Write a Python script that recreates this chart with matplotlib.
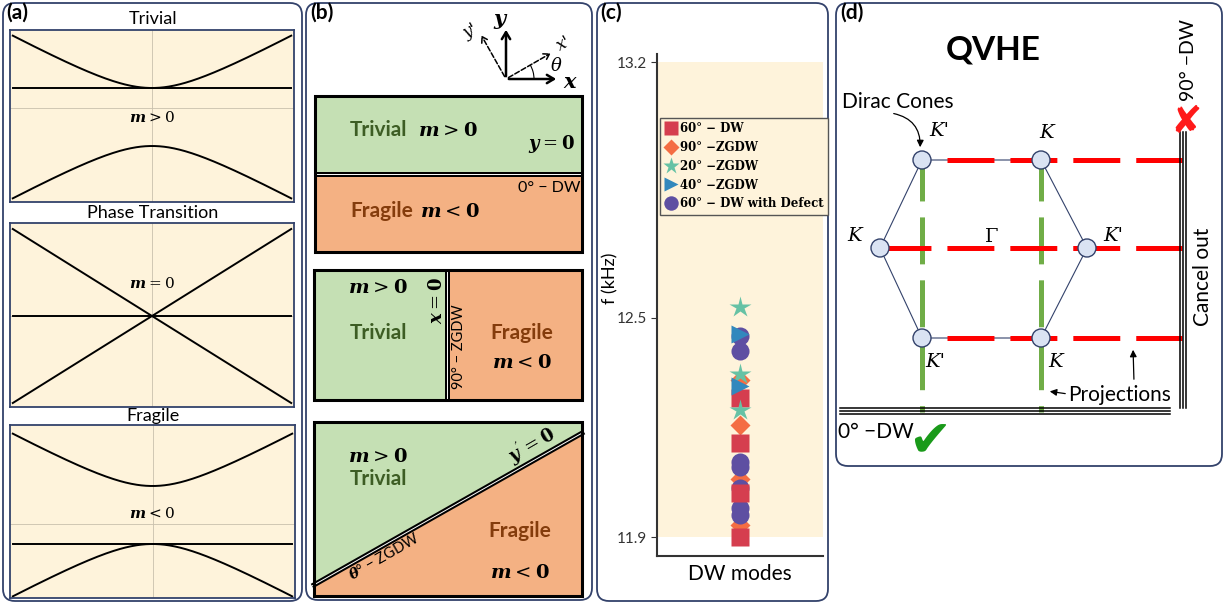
import matplotlib.pyplot as plt
import numpy as np
from matplotlib.patches import FancyBboxPatch, Rectangle, Polygon, Circle, Arc

plt.rcParams['font.family'] = ['Lato', 'DejaVu Sans']
plt.rcParams['mathtext.fontset'] = 'custom'
plt.rcParams['mathtext.rm'] = 'DejaVu Serif'
plt.rcParams['mathtext.it'] = 'DejaVu Serif:italic:bold'
plt.rcParams['mathtext.bf'] = 'DejaVu Serif:bold'
plt.rcParams['lines.scale_dashes'] = False

# ---- data -------------------------------------------------------------
# (a) band structures: E = c +/- sqrt((v k)^2 + m^2), flat band at c + m
phase_titles = ['Trivial', 'Phase Transition', 'Fragile']
phase_mass = [0.58, 0.0, -0.58]
phase_offset = [-0.18, 0.0, 0.18]
phase_velocity = [1.52, 1.74, 1.52]
phase_labels = [r'$m > 0$', r'$m = 0$', r'$m < 0$']
k = np.linspace(-1, 1, 301)

# (c) DW mode frequencies (kHz)
dw60 = [12.28, 12.157, 12.02, 11.90]
zg90 = [12.33, 12.206, 12.06, 11.933]
zg20 = [12.53, 12.346, 12.247]
zg40 = [12.456, 12.313]
dw60_defect = [12.45, 12.41, 12.105, 12.092, 12.034, 11.98, 11.96]
mode_labels = ['60° − DW', '90° −ZGDW', '20° −ZGDW', '40° −ZGDW', '60° − DW with Defect']
f_ticks = [11.9, 12.5, 13.2]

# (d) Brillouin zone (pixel layout of the diagram)
hex_x = [922, 1041, 1087, 1041, 922, 880]
hex_y = [160, 160, 248, 338, 338, 248]

# ---- colours ----------------------------------------------------------
FRAME = '#33426b'
BEIGE = '#fef3db'
GREEN = '#c5e0b4'
ORANGE = '#f4b183'
DKGREEN = '#3d5d24'
BROWN = '#843c0c'
spectral = ['#d53e4f', '#f46d43', '#66c2a5', '#3288bd', '#5e4fa2']

W, H = 1230, 603
fig = plt.figure(figsize=(12.3, 6.03), dpi=100)

ov = fig.add_axes([0, 0, 1, 1])
ov.set_xlim(0, W)
ov.set_ylim(H, 0)
ov.axis('off')


def box(l, t, r, b):
    return [l / W, 1 - b / H, (r - l) / W, (b - t) / H]


def frame(l, t, r, b):
    ov.add_patch(FancyBboxPatch((l, t), r - l, b - t,
                                boxstyle='round,pad=0,rounding_size=12',
                                fc='none', ec=FRAME, lw=1.3))


def double_line(xs, ys, w=3.6):
    ov.plot(xs, ys, color='k', lw=w, solid_capstyle='butt', zorder=4)
    ov.plot(xs, ys, color='white', lw=0.7, solid_capstyle='butt', zorder=5)


for l, t, r, b in [(3, 3, 302, 601), (306, 3, 592, 600),
                   (597, 3, 828, 601), (836, 3, 1222, 466)]:
    frame(l, t, r, b)

for lab, (x, y) in zip(['(a)', '(b)', '(c)', '(d)'],
                       [(6, 3), (310, 3), (600, 3), (840, 3)]):
    ov.text(x, y, lab, fontsize=15, fontweight='bold', ha='left', va='top')

# ---- (a) --------------------------------------------------------------
a_boxes = [(10, 30, 294, 202), (10, 223, 294, 407), (10, 425, 295, 598)]
a_ylims = [(-1.88, 1.56), (-1.82, 1.86), (-1.48, 1.98)]
a_label_y = [-0.2, 0.66, 0.22]
a_title_y = [19, 213, 416]
for i in range(3):
    ax = fig.add_axes(box(*a_boxes[i]))
    ax.set_facecolor(BEIGE)
    for s in ax.spines.values():
        s.set_color(FRAME)
        s.set_linewidth(1.3)
    ax.set_xticks([])
    ax.set_yticks([])
    ax.set_xlim(-1.02, 1.02)
    ax.set_ylim(*a_ylims[i])
    ax.axhline(0, color='#c9c0ad', lw=0.6)
    ax.axvline(0, color='#c9c0ad', lw=0.6)
    m, c, v = phase_mass[i], phase_offset[i], phase_velocity[i]
    e = np.sqrt((v * k) ** 2 + m ** 2)
    ax.plot(k, c + e, color='k', lw=1.4)
    ax.plot(k, c - e, color='k', lw=1.4)
    ax.plot(k, np.full_like(k, c + m), color='k', lw=1.4)
    ax.text(0, a_label_y[i], phase_labels[i], ha='center', va='center', fontsize=11)
    ov.text(153, a_title_y[i], phase_titles[i], ha='center', va='center', fontsize=13)

# ---- (b) --------------------------------------------------------------
# coordinate icon
o = (506, 79)
hd = dict(color='k', lw=1.8)
ov.annotate('', xy=(559, 79), xytext=o,
            arrowprops=dict(arrowstyle='->,head_length=0.5,head_width=0.3', **hd))
ov.annotate('', xy=(506, 27), xytext=o,
            arrowprops=dict(arrowstyle='->,head_length=0.5,head_width=0.3', **hd))
ov.annotate('', xy=(553, 52), xytext=o,
            arrowprops=dict(arrowstyle='->,head_length=0.4,head_width=0.25',
                            color='k', lw=1.1, ls='--'))
ov.annotate('', xy=(480, 33), xytext=o,
            arrowprops=dict(arrowstyle='->,head_length=0.4,head_width=0.25',
                            color='k', lw=1.1, ls='--'))
ov.add_patch(Arc(o, 56, 56, theta1=-30, theta2=0, color='k', lw=0.8))
ser_bi = dict(family='DejaVu Serif', style='italic', fontweight='bold')
ov.text(570, 82, 'x', fontsize=15, ha='center', va='center', **ser_bi)
ov.text(499, 19, 'y', fontsize=15, ha='center', va='center', **ser_bi)
ov.text(564, 44, "x'", fontsize=12, ha='center', va='center', rotation=30,
        family='DejaVu Serif', style='italic')
ov.text(470, 31, "y'", fontsize=12, ha='center', va='center', rotation=30,
        family='DejaVu Serif', style='italic')
ov.text(556, 66, 'θ', fontsize=13, ha='center', va='center',
        family='DejaVu Serif', style='italic')

# rect 1: 0 deg DW
ov.add_patch(Rectangle((315, 96), 267, 78, fc=GREEN, ec='none'))
ov.add_patch(Rectangle((315, 174), 267, 78, fc=ORANGE, ec='none'))
double_line([315, 582], [174, 174])
ov.add_patch(Rectangle((315, 96), 267, 156, fill=False, ec='k', lw=2.2, zorder=6))
ov.text(378, 130, 'Trivial', color=DKGREEN, fontsize=15, fontweight='bold',
        ha='center', va='center')
ov.text(448, 130, r'$m > \mathbf{0}$', fontsize=14, ha='center', va='center')
ov.text(552, 144, r'$y = \mathbf{0}$', fontsize=13, ha='center', va='center')
ov.text(580, 188, '0° − DW', fontsize=11.5, ha='right', va='center')
ov.text(382, 211, 'Fragile', color=BROWN, fontsize=15, fontweight='bold',
        ha='center', va='center')
ov.text(450, 211, r'$m < \mathbf{0}$', fontsize=14, ha='center', va='center')

# rect 2: 90 deg ZGDW
ov.add_patch(Rectangle((314, 270), 134, 130, fc=GREEN, ec='none'))
ov.add_patch(Rectangle((448, 270), 134, 130, fc=ORANGE, ec='none'))
double_line([447, 447], [270, 400])
ov.add_patch(Rectangle((314, 270), 268, 130, fill=False, ec='k', lw=2.2, zorder=6))
ov.text(378, 287, r'$m > \mathbf{0}$', fontsize=14, ha='center', va='center')
ov.text(378, 333, 'Trivial', color=DKGREEN, fontsize=15, fontweight='bold',
        ha='center', va='center')
ov.text(436, 300, r'$x = \mathbf{0}$', fontsize=13, ha='center', va='center',
        rotation=90)
ov.text(459, 347, '90° − ZGDW', fontsize=10.5, ha='center', va='center', rotation=90)
ov.text(522, 333, 'Fragile', color=BROWN, fontsize=15, fontweight='bold',
        ha='center', va='center')
ov.text(522, 362, r'$m < \mathbf{0}$', fontsize=14, ha='center', va='center')

# rect 3: theta ZGDW
ov.add_patch(Polygon([(314, 422), (582, 422), (582, 433), (314, 585)],
                     fc=GREEN, ec='none'))
ov.add_patch(Polygon([(314, 585), (582, 433), (582, 596), (314, 596)],
                     fc=ORANGE, ec='none'))
double_line([312, 584], [586, 432])
ov.add_patch(Rectangle((314, 422), 268, 174, fill=False, ec='k', lw=2.2, zorder=6))
ov.text(378, 456, r'$m > \mathbf{0}$', fontsize=14, ha='center', va='center')
ov.text(378, 479, 'Trivial', color=DKGREEN, fontsize=15, fontweight='bold',
        ha='center', va='center')
ov.text(532, 445, r"$y' = \mathbf{0}$", fontsize=13, ha='center', va='center',
        rotation=30)
ov.text(384, 557, r'$\theta$° − ZGDW', fontsize=10.5, ha='center', va='center',
        rotation=30)
ov.text(520, 531, 'Fragile', color=BROWN, fontsize=15, fontweight='bold',
        ha='center', va='center')
ov.text(520, 572, r'$m < \mathbf{0}$', fontsize=14, ha='center', va='center')

# ---- (c) --------------------------------------------------------------
axc = fig.add_axes(box(657, 54, 823, 556))
axc.set_facecolor('none')
axc.axhspan(11.9, 13.2, color=BEIGE, zorder=0, lw=0)
axc.set_xlim(-1, 1)
axc.set_ylim(11.848, 13.222)
for s in ['top', 'right']:
    axc.spines[s].set_visible(False)
for s in ['left', 'bottom']:
    axc.spines[s].set_color('#333333')
    axc.spines[s].set_linewidth(1.5)
axc.set_xticks([])
axc.set_yticks(f_ticks)
axc.set_yticklabels([f'{t:.1f}' for t in f_ticks])
axc.tick_params(axis='y', labelsize=11, length=4, colors='#333333')

series = [(dw60, 's', 13), (zg90, 'D', 10), (zg20, '*', 16), (zg40, '>', 13),
          (dw60_defect, 'o', 13)]
handles = [None] * 5
for idx in [1, 4, 0, 2, 3]:
    vals, mk, ms = series[idx]
    h, = axc.plot(np.zeros(len(vals)), vals, ls='none', marker=mk, ms=ms,
                  color=spectral[idx], mec='none', zorder=3)
    handles[idx] = h
leg = axc.legend(handles, mode_labels, loc='upper left', bbox_to_anchor=(0.02, 0.873),
                 prop={'family': 'DejaVu Serif', 'weight': 'bold', 'size': 8.5},
                 fancybox=False, facecolor=BEIGE, edgecolor='#555555', framealpha=1,
                 handlelength=1.1, handletextpad=0.25, labelspacing=0.5,
                 borderpad=0.35, borderaxespad=0, markerscale=0.8)
leg.get_frame().set_linewidth(1.0)
axc.set_ylabel('f (kHz)', fontsize=13)
axc.yaxis.set_label_coords((618 - 657) / 166, (556 - 278) / 502)
axc.set_xlabel('DW modes', fontsize=15)
axc.xaxis.set_label_coords(0.5, -0.015)

# ---- (d) --------------------------------------------------------------
ov.text(993, 50, 'QVHE', fontsize=24, fontweight='bold', ha='center', va='center')
hx = hex_x + hex_x[:1]
hy = hex_y + hex_y[:1]
ov.plot(hx, hy, color=FRAME, lw=0.8, zorder=3)
# projections onto the two DWs
ov.plot([884, 1182], [248, 248], color='#ff0000', lw=3.6, dashes=(33.8, 11.5), zorder=5)
ov.plot([947, 1182], [160, 160], color='#ff0000', lw=3.6, dashes=(33.8, 11.5), zorder=5)
ov.plot([947, 1182], [338, 338], color='#ff0000', lw=3.6, dashes=(33.8, 11.5), zorder=5)
for xg in [922, 1041]:
    ov.plot([xg, xg], [154, 412], color='#70ad47', lw=3.6, dashes=(33.8, 11.5), zorder=4)
for x, y in zip(hex_x, hex_y):
    ov.add_patch(Circle((x, y), 9, fc='#dae3f3', ec=FRAME, lw=1.0, zorder=7))

ser_i = dict(family='DejaVu Serif', style='italic', fontsize=14, ha='center', va='center')
ov.text(939, 131, "K'", **ser_i)
ov.text(1047, 133, 'K', **ser_i)
ov.text(855, 236, 'K', **ser_i)
ov.text(1113, 236, "K'", **ser_i)
ov.text(935, 362, "K'", **ser_i)
ov.text(1056, 362, 'K', **ser_i)
ov.text(992, 237, 'Γ', family='DejaVu Serif', fontsize=14, ha='center', va='center')

# domain walls
for d in [-3, 0, 3]:
    ov.plot([840, 1170], [411 + d, 411 + d], color='k', lw=1.1, zorder=6)
    ov.plot([1183 + d, 1183 + d], [132, 408], color='k', lw=1.1, zorder=6)

ov.text(898, 102, 'Dirac Cones', fontsize=15, ha='center', va='center')
ov.annotate('', xy=(920, 150), xytext=(891, 113),
            arrowprops=dict(arrowstyle='-|>,head_length=0.4,head_width=0.2',
                            color='k', lw=0.9, connectionstyle='arc3,rad=-0.45'))
ov.text(1120, 395, 'Projections', fontsize=15, ha='center', va='center')
ov.annotate('', xy=(1047, 391), xytext=(1068, 394),
            arrowprops=dict(arrowstyle='-|>,head_length=0.4,head_width=0.2',
                            color='k', lw=0.9))
ov.annotate('', xy=(1133, 347), xytext=(1134, 382),
            arrowprops=dict(arrowstyle='-|>,head_length=0.4,head_width=0.2',
                            color='k', lw=0.9))
ov.text(1203, 277, 'Cancel out', fontsize=15, rotation=90, ha='center', va='center')
ov.text(1188, 60, '90° −DW', fontsize=14, rotation=90, ha='center', va='center')
ov.text(1186, 123, '✘', family='DejaVu Sans', fontsize=27, color='#ff1a1a',
        ha='center', va='center', zorder=8)
ov.text(876, 432, '0° −DW', fontsize=15, ha='center', va='center')
ov.text(930, 442, '✔', family='DejaVu Sans', fontsize=37, color='#1a9a1a',
        ha='center', va='center', zorder=8)

fig.savefig('out.png', dpi=100)
